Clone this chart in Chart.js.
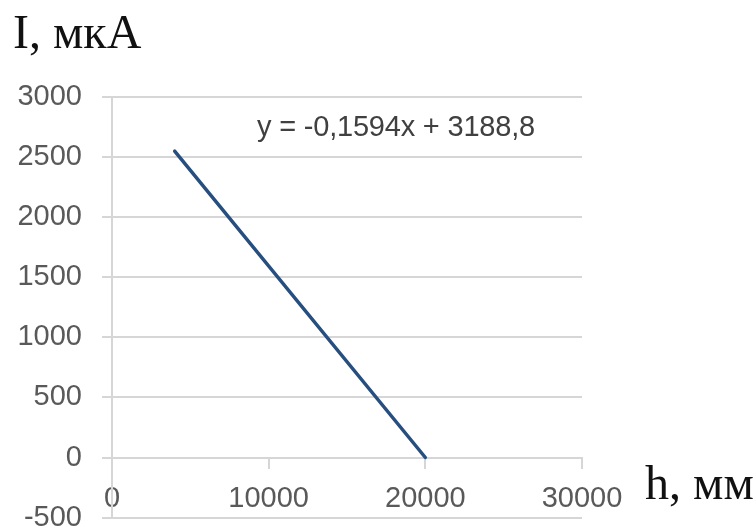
<!DOCTYPE html>
<html>
<head>
<meta charset="utf-8">
<script src="https://cdn.jsdelivr.net/npm/chart.js@4"></script>
<style>
  html, body { margin: 0; padding: 0; background: #fff; overflow: hidden; }
  #wrap { position: relative; width: 755px; height: 555px; }
  .lbl { position: absolute; white-space: nowrap; line-height: normal; }
  .serif { font-family: 'Liberation Serif', 'DejaVu Serif', serif; font-size: 48px; color: #111; }
  #eq { font-family: 'Liberation Sans', Arial, sans-serif; font-size: 29px; color: #404040; left: 257px; top: 110px; letter-spacing: -0.2px; }
</style>
</head>
<body>
<div id="wrap">
  <canvas id="chart"></canvas>
  <div class="lbl serif" style="left:13px; top:4px;">I, мкА</div>
  <div class="lbl serif" style="left:645px; top:455px;">h, мм</div>
  <div class="lbl" id="eq">y = -0,1594x + 3188,8</div>
</div>
<script>
// данные: h, мм -> I, мкА
const hValues = [4000, 20000];
const iValues = [2550, 0];

const xTicks = [0, 10000, 20000, 30000];
const yTicks = [-500, 0, 500, 1000, 1500, 2000, 2500, 3000];

const GRID = '#d6d6d6';
const TICK_COLOR = '#595959';
const tickFont = { family: "'Liberation Sans', Arial, sans-serif", size: 29 };

const points = hValues.map((h, i) => ({ x: h, y: iValues[i] }));

new Chart(document.getElementById('chart').getContext('2d'), {
    type: 'scatter',
    data: {
        datasets: [{
            data: points,
            showLine: true,
            borderColor: '#264f80',
            borderWidth: 3.5,
            borderCapStyle: 'round',
            pointRadius: 0,
            fill: false
        }]
    },
    options: {
        responsive: true, maintainAspectRatio: false, animation: false,
        layout: { padding: { top: 97, right: 173, bottom: 8, left: 0 } },
        plugins: { legend: { display: false }, tooltip: { enabled: false } },
        scales: {
            x: {
                type: 'linear',
                position: { y: 0 },
                min: xTicks[0], max: xTicks[xTicks.length - 1],
                afterBuildTicks: (s) => { s.ticks = xTicks.map(v => ({ value: v })); },
                grid: { drawOnChartArea: false, drawTicks: true, tickLength: 10, color: GRID, lineWidth: 2 },
                border: { display: true, color: GRID, width: 2 },
                ticks: { color: TICK_COLOR, font: tickFont, padding: 14, maxRotation: 0, callback: (v) => String(v) }
            },
            y: {
                type: 'linear',
                min: yTicks[0], max: yTicks[yTicks.length - 1],
                afterBuildTicks: (s) => { s.ticks = yTicks.map(v => ({ value: v })); },
                afterFit: (s) => { s.width = 112; },
                grid: { color: GRID, lineWidth: 2, tickLength: 10 },
                border: { display: true, color: GRID, width: 2 },
                ticks: { color: TICK_COLOR, font: tickFont, padding: 20, callback: (v) => String(v) }
            }
        }
    }
});
</script>
</body>
</html>
